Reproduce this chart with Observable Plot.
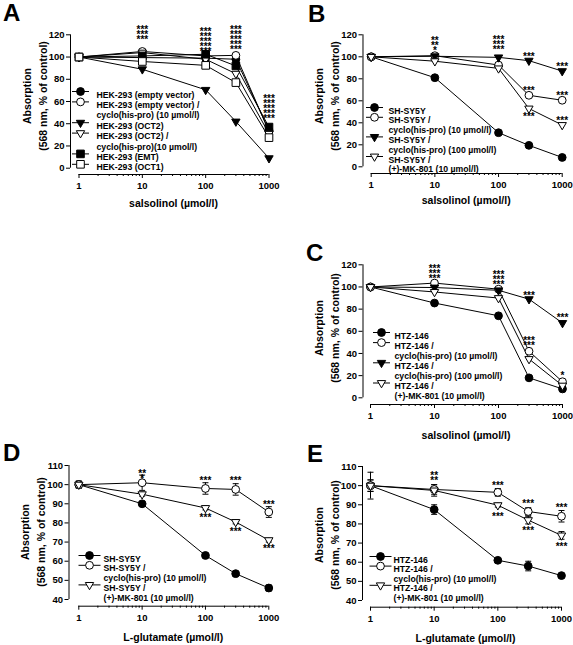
<!DOCTYPE html>
<html><head><meta charset="utf-8">
<script src="https://cdn.jsdelivr.net/npm/d3@7"></script>
<script src="https://cdn.jsdelivr.net/npm/@observablehq/plot@0.6"></script>
<style>
body{margin:0;background:#fff;}
#fig{position:relative;width:573px;height:645px;overflow:hidden;background:#fff;font-family:"Liberation Sans",Arial,sans-serif;font-weight:bold;color:#000;}
.letter{position:absolute;font-size:24px;font-weight:bold;line-height:1;}
.xt{position:absolute;font-size:10.5px;line-height:1;white-space:nowrap;transform:translate(-50%,-50%);}
.yt{position:absolute;font-size:10.5px;line-height:1;white-space:nowrap;transform:translate(-50%,-50%) rotate(-90deg);}
</style></head><body><div id="fig"></div><script>
// ---------- shared ----------
const conc = [1, 10, 100, 300, 1000];
const xMajorTicks = [1, 10, 100, 1000];
const ySalsolinolTicks = [0, 20, 40, 60, 80, 100, 120];
const yGlutamateTicks = [40, 50, 60, 70, 80, 90, 100, 110];
const panelLetters = ["A", "B", "C", "D", "E"];
const yTitle1 = "Absorption";
const yTitle2 = "(568 nm, % of control)";
const xTitleSalsolinol = "salsolinol (µmol/l)";
const xTitleGlutamate = "L-glutamate (µmol/l)";

// ---------- panel A ----------
const A_names = ["HEK-293 (empty vector)", "HEK-293 (empty vector) /\ncyclo(his-pro) (10 µmol/l)", "HEK-293 (OCT2)", "HEK-293 (OCT2) /\ncyclo(his-pro)(10 µmol/l)", "HEK-293 (EMT)", "HEK-293 (OCT1)"];
const A_emptyVector = [100, 99.5, 99, 98, 34];
const A_emptyVectorCyclo = [100, 105, 101, 101.5, 33];
const A_OCT2 = [100, 89, 70.5, 42, 9];
const A_OCT2Cyclo = [100, 104, 98, 85, 31];
const A_EMT = [100, 101, 102.5, 92, 37];
const A_OCT1 = [100, 96, 92.5, 77, 27.5];
const A_starConc = [10, 100, 300, 1000];
const A_starLevel = [121, 115, 116, 54.6];
const A_starText = ["***\n***\n***", "***\n***\n***\n***\n***", "***\n***\n***\n***\n***", "***\n***\n***\n***\n***"];

// ---------- panel B ----------
const B_names = ["SH-SY5Y", "SH-SY5Y /\ncyclo(his-pro) (10 µmol/l)", "SH-SY5Y /\ncyclo(his-pro) (100 µmol/l)", "SH-SY5Y /\n(+)-MK-801 (10 µmol/l)"];
const B_control = [100, 81, 31, 19.5, 8.5];
const B_cyclo10 = [100, 101, 92.5, 65, 60.5];
const B_cyclo100 = [100, 100.5, 99.5, 96.5, 87];
const B_MK801 = [100, 96, 89.5, 53, 38];
const B_starConc = [10, 100, 300, 300, 300, 1000, 1000, 1000];
const B_starLevel = [111, 111.8, 100.5, 70.4, 46.2, 91.5, 65.6, 42.9];
const B_starText = ["**\n**\n*", "***\n***\n***", "***", "***", "***", "***", "***", "***"];

// ---------- panel C ----------
const C_names = ["HTZ-146", "HTZ-146 /\ncyclo(his-pro) (10 µmol/l)", "HTZ-146 /\ncyclo(his-pro) (100 µmol/l)", "HTZ-146 /\n(+)-MK-801 (10 µmol/l)"];
const C_control = [100, 85.5, 74, 18, 8];
const C_cyclo10 = [100, 103.5, 98, 42, 14.5];
const C_cyclo100 = [100, 99.5, 97, 89, 67.5];
const C_MK801 = [100, 95.5, 90, 35, 11];
const C_starConc = [10, 100, 300, 300, 1000, 1000];
const C_starLevel = [112.8, 107.4, 92.5, 49.9, 73.4, 20.8];
const C_starText = ["***\n***\n***", "***\n***\n***", "***", "***\n***", "***", "*"];

// ---------- panel D ----------
const D_names = ["SH-SY5Y", "SH-SY5Y /\ncyclo(his-pro) (10 µmol/l)", "SH-SY5Y /\n(+)-MK-801 (10 µmol/l)"];
const D_control = [100, 90, 63, 53.5, 46];
const D_controlSem = [1.5, 1, 1, 1, 1.5];
const D_cyclo10 = [100, 101, 98, 97.5, 85.7];
const D_cyclo10Sem = [2, 4, 3, 3, 2.8];
const D_MK801 = [100, 95, 87.8, 80.5, 71];
const D_MK801Sem = [1.5, 1, 1, 1, 1];
const D_starConc = [10, 100, 100, 300, 300, 1000, 1000];
const D_starLevel = [104.8, 102.5, 83.4, 102.5, 75.7, 90, 67];
const D_starText = ["**\n*", "***", "***", "***", "***", "***", "***"];

// ---------- panel E ----------
const E_names = ["HTZ-146", "HTZ-146 /\ncyclo(his-pro) (10 µmol/l)", "HTZ-146 /\n(+)-MK-801 (10 µmol/l)"];
const E_control = [100, 87.5, 61, 58, 53];
const E_controlSem = [7, 2.5, 1, 2.5, 1];
const E_cyclo10 = [100, 98, 96.5, 86.5, 84];
const E_cyclo10Sem = [3, 2.5, 2, 2, 3];
const E_MK801 = [100, 97.5, 89.8, 82, 74];
const E_MK801Sem = [3, 3, 1, 2, 2];
const E_starConc = [10, 100, 100, 300, 300, 1000, 1000];
const E_starLevel = [104.3, 100.6, 84.4, 90.8, 76.9, 88.8, 68.7];
const E_starText = ["**\n**", "***", "***", "***", "***", "***", "***"];

// ---------- styling / rendering ----------
const FONT = '"Liberation Sans", Arial, sans-serif';
const triDown = {draw(ctx, size) {
  const y = Math.sqrt(size / (Math.sqrt(3) * 3));
  ctx.moveTo(0, 2 * y); ctx.lineTo(-Math.sqrt(3) * y, -y); ctx.lineTo(Math.sqrt(3) * y, -y); ctx.closePath();
}};
const hLine = half => ({draw(ctx) { ctx.moveTo(-half, 0); ctx.lineTo(half, 0); }});
const MARK = {
  fc: {symbol: "circle", fill: "black", r: 3.9},
  oc: {symbol: "circle", fill: "white", r: 3.9},
  ft: {symbol: triDown, fill: "black", r: 3.1},
  ot: {symbol: triDown, fill: "white", r: 3.1},
  fs: {symbol: "square", fill: "black", r: 4.3},
  os: {symbol: "square", fill: "white", r: 4.3},
};
const minorTicks = d3.scaleLog().domain([1, 1000]).ticks().filter(t => !xMajorTicks.includes(t));
const fig = document.getElementById("fig");

function addDiv(cls, txt, x, y) {
  const d = document.createElement("div");
  d.className = cls; d.textContent = txt;
  d.style.left = x + "px"; d.style.top = y + "px";
  fig.appendChild(d);
}

function drawPanel(p) {
  const marginLeft = p.yAxisX - p.L;
  const marginTop = p.yPx[1] - p.T;
  const marginRight = p.W - (p.xPx[1] - p.L);
  const marginBottom = p.H - (p.xAxisY - p.T);
  const marks = [];
  marks.push(Plot.ruleX([conc[0]], {x: d => d, y1: p.yDomain[0], y2: p.yDomain[1], dx: p.yAxisX - p.xPx[0], stroke: "black", strokeWidth: 1}));
  marks.push(Plot.ruleY([p.yDomain[0]], {y: d => d, x1: conc[0], x2: conc[conc.length - 1], dy: p.xAxisY - p.yPx[0], stroke: "black", strokeWidth: 1}));
  marks.push(Plot.axisY({ticks: p.yTicks, tickSize: 4, tickPadding: 2, tickFormat: d3.format("d"), label: null, fontSize: 9.5, fontWeight: "bold"}));
  marks.push(Plot.axisX({ticks: xMajorTicks, tickSize: 4, tickPadding: 4, tickFormat: d3.format("d"), label: null, fontSize: 9.5, fontWeight: "bold"}));
  marks.push(Plot.axisX({ticks: minorTicks, tickSize: 2, tickFormat: () => "", label: null}));
  const rowsOf = s => conc.map((c, i) => ({c, v: s.values[i], s: s.sem ? s.sem[i] : 0}));
  for (const s of p.series) marks.push(Plot.line(rowsOf(s), {x: "c", y: "v", stroke: "black", strokeWidth: 1}));
  for (const s of p.series) if (s.sem) {
    const rows = rowsOf(s);
    marks.push(Plot.ruleX(rows, {x: "c", y1: d => d.v - d.s, y2: d => d.v + d.s, stroke: "black", strokeWidth: 1}));
    marks.push(Plot.dot(rows, {x: "c", y: d => d.v + d.s, symbol: hLine(3), stroke: "black", fill: "none", strokeWidth: 1}));
    marks.push(Plot.dot(rows, {x: "c", y: d => d.v - d.s, symbol: hLine(3), stroke: "black", fill: "none", strokeWidth: 1}));
  }
  for (const s of p.series) marks.push(Plot.dot(rowsOf(s), {x: "c", y: "v", ...MARK[s.marker], stroke: "black", strokeWidth: 1}));
  const stars = p.stars.conc.map((c, i) => ({c, y: p.stars.level[i], t: p.stars.text[i]}));
  marks.push(Plot.text(stars, {x: "c", y: "y", text: "t", fontSize: 10, lineHeight: 0.5, dy: 2.6, fontWeight: "bold"}));
  // legend
  let row = 0;
  p.series.forEach((s, i) => {
    const lines = p.legend.names[i].split("\n");
    const dy = p.legend.y0 + row * p.legend.step - p.T - marginTop;
    const dxSym = p.legend.symX - p.L - marginLeft;
    marks.push(Plot.dot([0], {frameAnchor: "top-left", dx: dxSym, dy, symbol: hLine(p.legend.half), stroke: "black", fill: "none", strokeWidth: 1}));
    marks.push(Plot.dot([0], {frameAnchor: "top-left", dx: dxSym, dy, ...MARK[s.marker], stroke: "black", strokeWidth: 1}));
    lines.forEach((ln, j) => marks.push(Plot.text([ln], {text: d => d, frameAnchor: "top-left", dx: p.legend.textX - p.L - marginLeft, dy: dy + j * p.legend.step, textAnchor: "start", fontSize: 8.7, fontWeight: "bold"})));
    row += lines.length;
  });
  const svg = Plot.plot({
    width: p.W, height: p.H, marginLeft, marginRight, marginTop, marginBottom,
    x: {type: "log", domain: [1, 1000], range: [p.xPx[0] - p.L, p.xPx[1] - p.L]},
    y: {domain: p.yDomain, range: [p.yPx[0] - p.T, p.yPx[1] - p.T]},
    style: {fontFamily: FONT, fontWeight: "bold", fontSize: "9.5px", background: "transparent", overflow: "visible", color: "black"},
    marks
  });
  svg.style.position = "absolute";
  svg.style.left = p.L + "px";
  svg.style.top = p.T + "px";
  fig.appendChild(svg);
  // titles & letter
  addDiv("xt", p.xTitle, (p.xPx[0] + p.xPx[1]) / 2, p.xTitleY);
  addDiv("yt", yTitle1, p.yAxisX - 43.5, p.yTitleY);
  addDiv("yt", yTitle2, p.yAxisX - 27.5, p.yTitleY);
  addDiv("letter", p.letter, p.letterX, p.letterY);
}

const panels = [
  {letter: panelLetters[0], letterX: 3, letterY: 1, L: 0, T: 0, W: 286, H: 215, yAxisX: 70, xAxisY: 174, xPx: [78.5, 268.5], yPx: [167.7, 34.3],
   yDomain: [0, 120], yTicks: ySalsolinolTicks, xTitle: xTitleSalsolinol, xTitleY: 203, yTitleY: 96,
   series: [{values: A_emptyVector, marker: "fc"}, {values: A_emptyVectorCyclo, marker: "oc"}, {values: A_OCT2, marker: "ft"},
            {values: A_OCT2Cyclo, marker: "ot"}, {values: A_EMT, marker: "fs"}, {values: A_OCT1, marker: "os"}],
   stars: {conc: A_starConc, level: A_starLevel, text: A_starText},
   legend: {names: A_names, symX: 80, half: 8.5, textX: 96, y0: 91, step: 10.4}},
  {letter: panelLetters[1], letterX: 308, letterY: 2, L: 286, T: 0, W: 287, H: 215, yAxisX: 362.5, xAxisY: 173, xPx: [370.7, 561.7], yPx: [166.3, 34.3],
   yDomain: [0, 120], yTicks: ySalsolinolTicks, xTitle: xTitleSalsolinol, xTitleY: 200, yTitleY: 96,
   series: [{values: B_control, marker: "fc"}, {values: B_cyclo10, marker: "oc"}, {values: B_cyclo100, marker: "ft"}, {values: B_MK801, marker: "ot"}],
   stars: {conc: B_starConc, level: B_starLevel, text: B_starText},
   legend: {names: B_names, symX: 374, half: 8.5, textX: 388, y0: 107, step: 9.8}},
  {letter: panelLetters[2], letterX: 306, letterY: 241, L: 286, T: 215, W: 287, H: 210, yAxisX: 362.5, xAxisY: 404, xPx: [370, 562], yPx: [397.3, 264.3],
   yDomain: [0, 120], yTicks: ySalsolinolTicks, xTitle: xTitleSalsolinol, xTitleY: 435, yTitleY: 328,
   series: [{values: C_control, marker: "fc"}, {values: C_cyclo10, marker: "oc"}, {values: C_cyclo100, marker: "ft"}, {values: C_MK801, marker: "ot"}],
   stars: {conc: C_starConc, level: C_starLevel, text: C_starText},
   legend: {names: C_names, symX: 381, half: 8.5, textX: 394, y0: 332, step: 10.1}},
  {letter: panelLetters[3], letterX: 3, letterY: 441, L: 0, T: 420, W: 286, H: 225, yAxisX: 68.5, xAxisY: 605.7, xPx: [78.3, 268.3], yPx: [599, 465],
   yDomain: [40, 110], yTicks: yGlutamateTicks, xTitle: xTitleGlutamate, xTitleY: 637, yTitleY: 532,
   series: [{values: D_control, sem: D_controlSem, marker: "fc"}, {values: D_cyclo10, sem: D_cyclo10Sem, marker: "oc"}, {values: D_MK801, sem: D_MK801Sem, marker: "ot"}],
   stars: {conc: D_starConc, level: D_starLevel, text: D_starText},
   legend: {names: D_names, symX: 89, half: 11, textX: 103, y0: 555, step: 9.8}},
  {letter: panelLetters[4], letterX: 307, letterY: 442, L: 286, T: 420, W: 287, H: 225, yAxisX: 362, xAxisY: 606.7, xPx: [370, 561], yPx: [600, 466],
   yDomain: [40, 110], yTicks: yGlutamateTicks, xTitle: xTitleGlutamate, xTitleY: 638, yTitleY: 535,
   series: [{values: E_control, sem: E_controlSem, marker: "fc"}, {values: E_cyclo10, sem: E_cyclo10Sem, marker: "oc"}, {values: E_MK801, sem: E_MK801Sem, marker: "ot"}],
   stars: {conc: E_starConc, level: E_starLevel, text: E_starText},
   legend: {names: E_names, symX: 380, half: 11, textX: 393, y0: 556, step: 9.6}},
];
panels.forEach(drawPanel);
</script></body></html>
